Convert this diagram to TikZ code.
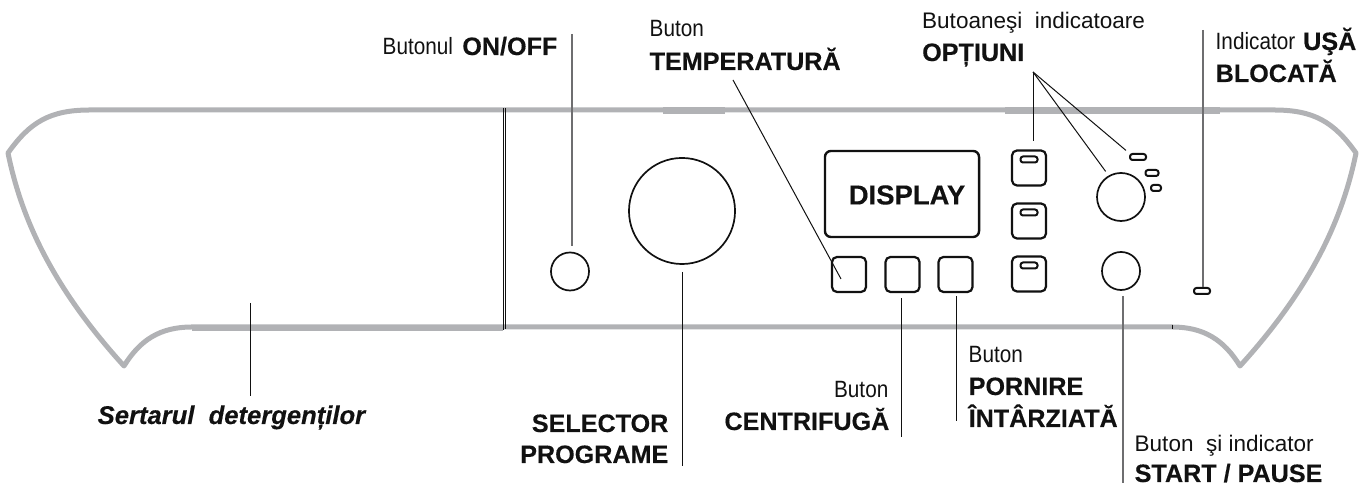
\documentclass[tikz,border=0pt]{standalone}
\usepackage{fontspec}
\setmainfont[BoldFeatures={FakeBold=0.3},BoldItalicFeatures={FakeBold=0.3}]{Liberation Sans}
\newfontfamily\narrowfont[FakeStretch=0.88]{Liberation Sans}
\usetikzlibrary{positioning,calc}
\definecolor{ink}{HTML}{111111}
\definecolor{shellcol}{HTML}{B1B2B5}
\definecolor{leadcol}{HTML}{6E6E70}
\begin{document}
\begin{tikzpicture}[
  x=0.01cm, y=-0.01cm, line cap=butt, line join=round,
  shell/.style={shellcol, line width=0.05cm},
  knob/.style={draw=ink, circle, inner sep=0pt, line width=0.017cm},
  keycap/.style={draw=ink, rounded corners=0.05cm, inner sep=0pt, line width=0.022cm,
                 minimum width=0.34cm, minimum height=0.35cm},
  lamp/.style={draw=ink, rounded corners=0.025cm, inner sep=0pt, line width=0.02cm,
               minimum height=0.06cm},
  fl/.style={ink, line width=0.01cm},
  flgrey/.style={leadcol, line width=0.014cm},
  thin/.style={font=\fontsize{6.7}{7}\selectfont\narrowfont, inner sep=0pt, text=ink},
  thinwide/.style={font=\fontsize{6.4}{7}\selectfont, inner sep=0pt, text=ink},
  fat/.style={font=\fontsize{7.15}{8}\selectfont\bfseries, inner sep=0pt, text=ink}]
\useasboundingbox (0,0) rectangle (1361,483);

% ================================================================ the shell
\draw[shell] (90,110) .. controls (50,110) and (30,122) .. (8,153)
  .. controls (22,222) and (55,290) .. (124,366)
  .. controls (140,340) and (160,327) .. (192,327) -- (1172,327)
  .. controls (1204,327) and (1224,340) .. (1240,366)
  .. controls (1309,290) and (1342,222) .. (1356,153)
  .. controls (1334,122) and (1314,110) .. (1274,110) -- cycle;
\draw[shellcol, line width=0.068cm] (192,328) -- (503,328);
\draw[shellcol, line width=0.062cm] (663,110.5) -- (725,110.5);
\draw[shellcol, line width=0.062cm] (1005,110.5) -- (1220,110.5);
\draw[ink, line width=0.007cm] (503,108) -- (503,330);
\draw[ink, line width=0.007cm] (505.5,108) -- (505.5,329);
\draw[ink, line width=0.007cm] (1172,325) -- (1172,329);

% ================================================================ the controls
\node[knob, minimum size=0.38cm] (onoff) at (570,271.5) {};
\node[knob, minimum size=1.06cm] (selector) at (682,211) {};
\node[knob, minimum size=0.48cm] (dial) at (1121,197) {};
\node[knob, minimum size=0.38cm] (startkey) at (1121,271) {};
\node[draw=ink, rounded corners=0.06cm, line width=0.024cm, inner sep=0pt,
      minimum width=1.54cm, minimum height=0.86cm] (display) at (902,194) {};
\node[fat, font=\fontsize{7.8}{8}\selectfont\bfseries] (displaytxt) at (907,195) {DISPLAY};

\node[keycap] (tempkey) at (849,274.5) {};
\node[keycap] (spinkey) at (902.5,274.5) {};
\node[keycap] (delaykey) at (955.5,274.5) {};

\foreach \n/\y in {optA/168,optB/221,optC/274}{
  \node[keycap] (\n) at (1029,\y) {};
  \node[lamp, minimum width=0.17cm] (\n lamp) at (1029,\y-8.5) {};
}
\node[lamp, minimum width=0.16cm] (ledA) at (1138,157) {};
\node[lamp, minimum width=0.13cm] (ledB) at (1152,173) {};
\node[lamp, minimum width=0.10cm] (ledC) at (1156,188) {};
\node[lamp, minimum width=0.16cm] (doorlamp) at (1202,291) {};

% ================================================================ the labels
\node[thin, anchor=base west] (onofflab) at (382,55) {Butonul};
\node[fat, anchor=base east] (onoffbold) at (558,55) {ON/OFF};
\node[thin, anchor=base west] (templab) at (649,37) {Buton};
\node[fat, anchor=base west] (tempbold) at (649,70) {TEMPERATURĂ};
\node[fat, anchor=base east] (sellab) at (669,432) {SELECTOR};
\node[fat, anchor=base east] (selbold) at (669,463) {PROGRAME};
\node[fat, anchor=base west, font=\fontsize{7.28}{8}\selectfont\bfseries\itshape] (drawerlab)
  at (97,424) {Sertarul\ \ detergenților};
\node[thinwide, anchor=base west] (optlab) at (921.5,29) {Butoaneşi\ \ indicatoare};
\node[fat, anchor=base west] (optbold) at (921.5,61) {OPȚIUNI};
\node[thin, anchor=base west] (doorlab) at (1215,50) {Indicator};
\node[fat, anchor=base east] (doorbold) at (1357,50) {UŞĂ};
\node[fat, anchor=base west] (doorbolder) at (1215,82) {BLOCATĂ};
\node[thin, anchor=base east] (spinlab) at (889,398) {Buton};
\node[fat, anchor=base east] (spinbold) at (890,430) {CENTRIFUGĂ};
\node[thin, anchor=base west] (delaylab) at (968,363) {Buton};
\node[fat, anchor=base west] (delaybold) at (968,395) {PORNIRE};
\node[fat, anchor=base west] (delaybolder) at (968,427) {ÎNTÂRZIATĂ};
\node[thinwide, anchor=base west] (startlab) at (1134,452) {Buton\ \ şi indicator};
\node[fat, anchor=base west] (startbold) at (1134,482) {START\ / PAUSE};

% ================================================================ the leaders
\coordinate (onofftop) at (572,34);
\coordinate (tempend) at (841,279);
\coordinate (temptop) at (733,80);
\coordinate (selend) at (682,466);
\coordinate (spinend) at (901,437);
\coordinate (delayend) at (956,421);
\coordinate (startend) at (1123,483);
\coordinate (opttop) at (1033,72);
\coordinate (doortop) at (1203,30);
\coordinate (drawertop) at (250,303);
\coordinate (drawerend) at (250,396);

\draw[flgrey, shorten >=0.055cm] (onofftop) -- (onofftop |- onoff.north);
\draw[fl] (temptop) -- (tempend);
\draw[fl, shorten <=0.07cm] (selector.south) -- (selend);
\draw[fl, shorten <=0.05cm] (spinend |- spinkey.south) -- (spinend);
\draw[fl, shorten <=0.03cm] (delayend |- delaykey.south) -- (delayend);
\draw[flgrey, shorten <=0.05cm] (startend |- startkey.south) -- (startend);
\draw[fl, shorten >=0.08cm] (opttop) -- (opttop |- optA.north);
\draw[fl, shorten >=0.05cm] (opttop) -- (dial.120);
\draw[fl, shorten >=0.04cm] (opttop) -- (ledA.north west);
\draw[flgrey] (doortop) -- (doortop |- doorlamp.north);
\draw[fl] (drawertop) -- (drawerend);

\end{tikzpicture}
\end{document}
